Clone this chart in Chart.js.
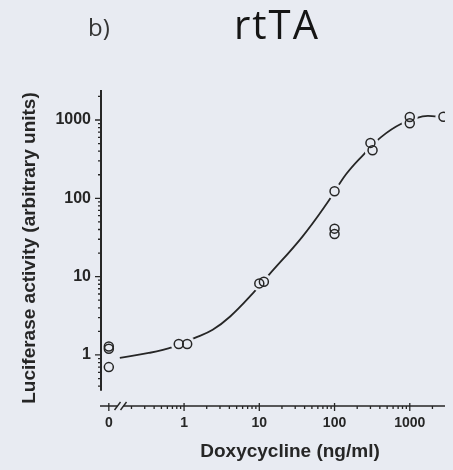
<!DOCTYPE html>
<html>
<head>
<meta charset="utf-8">
<script src="https://cdn.jsdelivr.net/npm/chart.js@4.4.1/dist/chart.umd.min.js"></script>
<style>
  html, body { margin: 0; padding: 0; background: #e8ebf2; }
  #wrap { position: relative; width: 453px; height: 470px; overflow: hidden; }
  canvas { position: absolute; left: 0; top: 0; }
  .lbl { position: absolute; font-family: "Open Sans", sans-serif; line-height: 1; white-space: nowrap; }
  #panel { left: 88px; top: 15px; font-size: 24px; color: #333; }
  #title { left: 234px; top: 4px; font-size: 40px; letter-spacing: 2px; color: #151515; }
</style>
</head>
<body>
<div id="wrap">
  <canvas id="chart" width="453" height="470"></canvas>
  <div class="lbl" id="panel">b)</div>
  <div class="lbl" id="title">rtTA</div>
</div>
<script>
// doxycycline dose (ng/ml) and luciferase activity
const doses    = [0, 0, 0, 0.85, 1.1, 10, 11.5, 100, 100, 100, 300, 320, 1000, 1000, 2800];
const activity = [1.28, 1.2, 0.7, 1.38, 1.38, 8.2, 8.6, 123, 41, 35, 510, 410, 1090, 910, 1100];

// fitted dose-response curve
const curveDose     = [0.14, 0.34, 0.72, 1.39, 2.4, 4.1, 8.3, 13.5, 37, 81, 143, 245, 415, 760, 1480, 2300, 2800];
const curveActivity = [0.92, 1.06, 1.27, 1.65, 2.1, 3.1, 6.2, 10.6, 32, 89, 204, 365, 605, 890, 1110, 1110, 1100];

const xTickValues = [0, 1, 10, 100, 1000];
const xTickLabels = ['0', '1', '10', '100', '1000'];
const yTickValues = [1, 10, 100, 1000];
const yTickLabels = ['1', '10', '100', '1000'];

const ZERO_POS = 0.1;   // where dose 0 sits on the broken log axis
const BREAK_AT = 0.143; // axis break between 0 and 1
const Y_AXIS_LOW = 0.35;
const BG = '#e8ebf2';
const INK = '#262626';

const pos = v => (v === 0 ? ZERO_POS : v);
const points = doses.map((d, i) => ({ x: pos(d), y: activity[i] }));
const curve = curveDose.map((d, i) => ({ x: d, y: curveActivity[i] }));

// decade ticks 1..9 x 10^e between lo and hi
function logTicks(lo, hi) {
    const out = [];
    for (let e = -1; e <= 3; e++) {
        for (let m = 1; m <= 9; m++) {
            const v = m * Math.pow(10, e);
            if (v >= lo * 0.999 && v <= hi * 1.001) out.push(v);
        }
    }
    return out;
}
const near = (a, b) => Math.abs(a - b) / b < 1e-6;
const isMajor = v => Math.abs(Math.log10(v) - Math.round(Math.log10(v))) < 1e-6;

// axis lines, tick marks, break and x title
const axisPlugin = {
    id: 'axisLines',
    afterDraw(chart) {
        const { ctx, chartArea, scales: { x, y } } = chart;
        ctx.save();
        ctx.strokeStyle = INK;
        ctx.lineCap = 'butt';

        // y axis, stops short of the x axis
        const yBottom = y.getPixelForValue(Y_AXIS_LOW);
        ctx.lineWidth = 2;
        ctx.beginPath();
        ctx.moveTo(chartArea.left, chartArea.top);
        ctx.lineTo(chartArea.left, yBottom);
        ctx.stroke();
        ctx.lineWidth = 1.3;
        ctx.beginPath();
        y.ticks.forEach(t => {
            const py = y.getPixelForValue(t.value);
            const len = isMajor(t.value) ? 6 : 3;
            ctx.moveTo(chartArea.left - len, py);
            ctx.lineTo(chartArea.left, py);
        });
        ctx.stroke();

        // x axis with a break after zero
        const by = chartArea.bottom;
        const bx = x.getPixelForValue(BREAK_AT);
        ctx.lineWidth = 1.6;
        ctx.beginPath();
        ctx.moveTo(chartArea.left - 1, by);
        ctx.lineTo(bx - 3, by);
        ctx.moveTo(bx + 3, by);
        ctx.lineTo(chartArea.right, by);
        ctx.stroke();
        ctx.lineWidth = 1.4;
        ctx.beginPath();
        [-3, 3].forEach(dx => {
            ctx.moveTo(bx + dx - 3, by + 4);
            ctx.lineTo(bx + dx + 3, by - 4);
        });
        ctx.stroke();
        ctx.lineWidth = 1.3;
        ctx.beginPath();
        x.ticks.forEach(t => {
            const px = x.getPixelForValue(t.value);
            if (isMajor(t.value)) {
                ctx.moveTo(px, by - 3);
                ctx.lineTo(px, by + 5);
            } else {
                ctx.moveTo(px, by);
                ctx.lineTo(px, by + 3);
            }
        });
        ctx.stroke();

        // x axis title
        ctx.fillStyle = INK;
        ctx.font = 'bold 19px "Liberation Sans", Arial, sans-serif';
        ctx.textAlign = 'center';
        ctx.textBaseline = 'middle';
        ctx.fillText('Doxycycline (ng/ml)', 290, 452);
        ctx.restore();
    }
};

Chart.defaults.font.family = '"Liberation Sans", Arial, sans-serif';
Chart.defaults.color = INK;

new Chart(document.getElementById('chart').getContext('2d'), {
    type: 'scatter',
    data: {
        datasets: [
            {
                label: 'measured',
                data: points,
                order: 0,
                pointRadius: 4.5,
                pointBorderWidth: 1.5,
                pointBorderColor: INK,
                pointBackgroundColor: 'rgba(0,0,0,0)'
            },
            {
                // background halo so the curve stops short of the circles
                label: 'halo',
                data: points,
                order: 1,
                pointRadius: 8,
                pointBorderWidth: 0,
                pointBackgroundColor: BG
            },
            {
                label: 'fit',
                type: 'line',
                data: curve,
                order: 2,
                borderColor: INK,
                borderWidth: 1.8,
                pointRadius: 0,
                tension: 0.4,
                fill: false
            }
        ]
    },
    options: {
        responsive: false,
        animation: false,
        layout: { padding: { top: 90, right: 0, left: 0, bottom: 0 } },
        plugins: {
            legend: { display: false },
            tooltip: { enabled: false }
        },
        scales: {
            x: {
                type: 'logarithmic',
                min: 0.0787,
                max: 2938,
                border: { display: false },
                grid: { display: false, drawTicks: false },
                afterBuildTicks: s => { s.ticks = logTicks(ZERO_POS, 2000).map(v => ({ value: v })); },
                afterFit: s => { s.height = 64; },
                ticks: {
                    autoSkip: false,
                    maxRotation: 0,
                    padding: 9,
                    font: { size: 14, weight: 'bold' },
                    callback: v => {
                        const i = xTickValues.findIndex(t => near(v, pos(t)));
                        return i >= 0 ? xTickLabels[i] : '';
                    }
                }
            },
            y: {
                type: 'logarithmic',
                min: 0.223,
                max: 2415,
                border: { display: false },
                grid: { display: false, drawTicks: false },
                afterBuildTicks: s => { s.ticks = logTicks(0.4, 2000).map(v => ({ value: v })); },
                afterFit: s => { s.width = 101; },
                title: {
                    display: true,
                    text: 'Luciferase activity (arbitrary units)',
                    font: { size: 19, weight: 'bold' },
                    padding: { top: 18, bottom: 0 }
                },
                ticks: {
                    autoSkip: false,
                    padding: 10,
                    font: { size: 16, weight: 'bold' },
                    callback: v => {
                        const i = yTickValues.findIndex(t => near(v, t));
                        return i >= 0 ? yTickLabels[i] : '';
                    }
                }
            }
        }
    },
    plugins: [axisPlugin]
});
</script>
</body>
</html>
